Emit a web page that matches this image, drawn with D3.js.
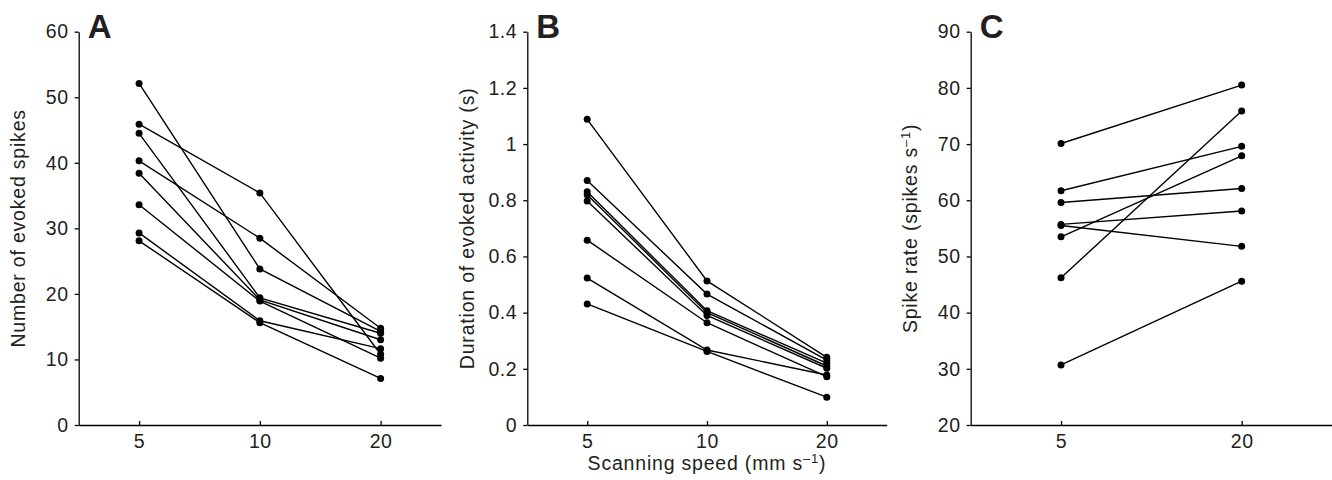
<!DOCTYPE html>
<html>
<head>
<meta charset="utf-8">
<script src="https://cdn.jsdelivr.net/npm/d3@7"></script>
<style>
body { margin: 0; background: #fff; }
text { font-family: "Liberation Sans", Arial, Helvetica, sans-serif; fill: #231f20; }
.axis path, .axis line { stroke: #000; stroke-width: 1.3; }
.axis text { font-size: 19.5px; letter-spacing: 0.6px; }
</style>
</head>
<body>
<script>
var w = 1332;
var h = 480;

// scanning speeds (mm/s)
var speedsAB = ["5", "10", "20"];
var speedsC = ["5", "20"];

// one row per neuron, values at each speed
var evokedSpikes = [
    [52.1, 23.8, 14.3],
    [45.9, 35.4, 10.8],
    [44.5, 19.4, 14.0],
    [40.3, 28.5, 14.75],
    [38.4, 19.1, 13.0],
    [33.6, 18.9, 10.2],
    [29.3, 15.9, 11.65],
    [28.1, 15.6, 7.1]
];
var evokedDuration = [
    [1.088, 0.513, 0.241],
    [0.870, 0.466, 0.231],
    [0.830, 0.407, 0.220],
    [0.820, 0.400, 0.210],
    [0.797, 0.390, 0.202],
    [0.658, 0.364, 0.172],
    [0.523, 0.267, 0.178],
    [0.431, 0.262, 0.099]
];
var spikeRate = [
    [70.1, 80.5],
    [61.7, 69.6],
    [59.6, 62.1],
    [55.7, 58.1],
    [55.5, 51.8],
    [53.5, 67.9],
    [46.2, 75.9],
    [30.7, 45.6]
];

var ticksA = [0, 10, 20, 30, 40, 50, 60];
var ticksB = [0, 0.2, 0.4, 0.6, 0.8, 1, 1.2, 1.4];
var ticksC = [20, 30, 40, 50, 60, 70, 80, 90];

var yBottom = 425;
var yTop = 31.7;

var svg = d3.select("body").append("svg")
    .attr("width", w)
    .attr("height", h);

function drawPanel(cats, rows, ticks, x0, x1, letter, title) {
    var g = svg.append("g");

    var xScale = d3.scalePoint()
        .domain(cats)
        .range([x0, x1])
        .padding(0.5);
    var yScale = d3.scaleLinear()
        .domain([ticks[0], ticks[ticks.length - 1]])
        .range([yBottom, yTop]);

    var yAxis = d3.axisLeft(yScale)
        .tickValues(ticks)
        .tickSize(4)
        .tickSizeOuter(0)
        .tickPadding(6)
        .tickFormat(d3.format("~g"));
    var xAxis = d3.axisBottom(xScale)
        .tickSize(-4)
        .tickSizeOuter(0)
        .tickPadding(9);

    g.append("g")
        .attr("class", "axis")
        .attr("transform", "translate(0," + yBottom + ")")
        .call(xAxis);
    g.append("g")
        .attr("class", "axis")
        .attr("transform", "translate(" + x0 + ",0)")
        .call(yAxis);
    g.selectAll(".axis text").attr("fill", "#231f20");

    var line = d3.line()
        .x(function(d, i) { return xScale(cats[i]); })
        .y(function(d) { return yScale(d); });

    g.selectAll("path.neuron")
        .data(rows)
        .enter()
        .append("path")
        .attr("class", "neuron")
        .attr("d", line)
        .attr("fill", "none")
        .attr("stroke", "#000")
        .attr("stroke-width", 1.4);

    rows.forEach(function(row) {
        g.selectAll(null)
            .data(row)
            .enter()
            .append("circle")
            .attr("cx", function(d, i) { return xScale(cats[i]); })
            .attr("cy", function(d) { return yScale(d); })
            .attr("r", 3.5)
            .attr("fill", "#000");
    });

    g.append("text")
        .text(letter)
        .attr("x", x0 + 9)
        .attr("y", 38)
        .attr("font-size", "33px")
        .attr("font-weight", "bold");

    var t = g.append("text")
        .attr("transform", "translate(" + (x0 - 60) + "," + ((yBottom + yTop) / 2) + ") rotate(-90)")
        .attr("text-anchor", "middle")
        .attr("dy", "0.33em")
        .attr("font-size", "19.5px")
        .attr("letter-spacing", "0.8px");
    title(t);

    return xScale;
}

function unit(t, before, after) {
    t.append("tspan").text(before);
    t.append("tspan").text("\u20131").attr("baseline-shift", "super").attr("font-size", "13px");
    t.append("tspan").text(after);
}

drawPanel(speedsAB, evokedSpikes, ticksA, 78.7, 441, "A", function(t) {
    t.text("Number of evoked spikes");
});
var xB = drawPanel(speedsAB, evokedDuration, ticksB, 527.3, 886.7, "B", function(t) {
    t.text("Duration of evoked activity (s)");
});
drawPanel(speedsC, spikeRate, ticksC, 970.7, 1332, "C", function(t) {
    unit(t, "Spike rate (spikes s", ")");
});

var xt = svg.append("text")
    .attr("x", xB("10"))
    .attr("y", 470)
    .attr("text-anchor", "middle")
    .attr("font-size", "19.5px")
    .attr("letter-spacing", "0.8px");
unit(xt, "Scanning speed (mm s", ")");
</script>
</body>
</html>
